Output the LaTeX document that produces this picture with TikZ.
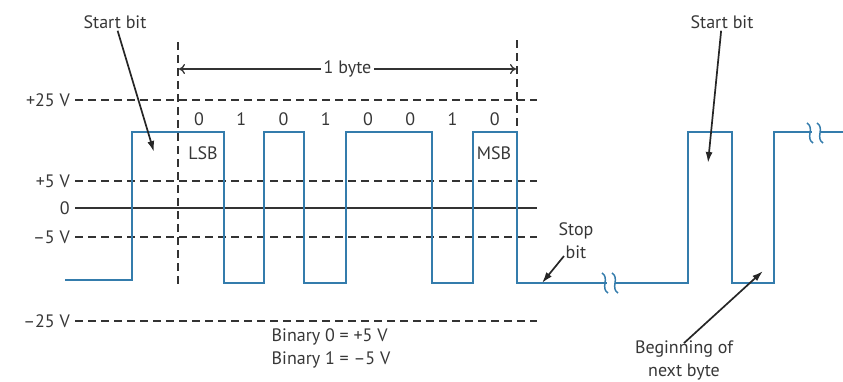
\documentclass[tikz,border=0pt]{standalone}
\usepackage{fontspec}
\setmainfont{PT Sans}
\usepackage{tikz}
\usetikzlibrary{arrows,arrows.meta,positioning}
\usepackage{xcolor}
\definecolor{sigblue}{RGB}{52,124,172}
\definecolor{txtgray}{RGB}{55,55,55}

\tikzset{
  level/.style={line width=1.3pt, black!80, dash pattern=on 8pt off 5pt, shorten <=3pt},
  zero/.style={line width=1.3pt, black!80, shorten <=3pt},
  wave/.style={sigblue, line width=1.8pt},
  pointer/.style={-{Latex[length=11pt,width=7pt]}, line width=1.7pt, black!85},
  lbl/.style={text=txtgray, font=\fontsize{18}{23}\selectfont, inner sep=2pt},
}

\begin{document}
\begin{tikzpicture}[x=1pt,y=-1pt]
          \useasboundingbox (0,0) rectangle (843,381);
          \node [lbl, anchor=east] (lv25) at (72,100) {+25 V};
          \node [lbl, anchor=east] (lv5) at (72,181) {+5 V};
          \node [lbl, anchor=east] (lv0) at (72,208) {0};
          \node [lbl, anchor=east] (lvm5) at (72,237) {–5 V};
          \node [lbl, anchor=east] (lvm25) at (72,321) {–25 V};
          \coordinate (rv25) at (537,100);
          \coordinate (rv5) at (537,181);
          \coordinate (rv0) at (537,208);
          \coordinate (rvm5) at (537,237);
          \coordinate (rvm25) at (537,321);
          \draw[level] (lv25) -- (rv25);
          \draw[level] (lv5) -- (rv5);
          \draw[zero] (lv0) -- (rv0);
          \draw[level] (lvm5) -- (rvm5);
          \draw[level] (lvm25) -- (rvm25);
          \coordinate (lsbtop) at (178,42);
          \coordinate (lsbbot) at (178,285);
          \coordinate (msbtop) at (517,40);
          \coordinate (msbbot) at (517,132);
          \draw[level, shorten <=0pt] (lsbtop) -- (lsbbot);
          \draw[level, shorten <=0pt] (msbtop) -- (msbbot);
          \coordinate (byteL) at (179,69);
          \coordinate (byteR) at (516,69);
          \draw[{To[length=6pt,width=10pt]}-{To[length=6pt,width=10pt]}, line width=1.3pt, black!80] (byteL) -- (byteR) node[lbl, midway, fill=white, inner sep=3pt] (byte) {1 byte};
          \foreach \b [count=\i from 0] in {0,1,0,1,0,0,1,0}
            \node [lbl] (bit\i) at (199+42.25*\i,119) {\b};
          \node [lbl] (lsb) at (203,153) {LSB};
          \node [lbl] (msb) at (494,153) {MSB};
          \draw[wave] (65,280) -- (132,280) -- (132,132) -- (224,132) -- (224,283) -- (264,283) -- (264,132)
            -- (304,132) -- (304,283) -- (346,283) -- (346,132) -- (432,132) -- (432,283) -- (473,283)
            -- (473,132) -- (517,132) -- (517,283) -- (688,283) -- (688,132) -- (732,132) -- (732,283)
            -- (774,283) -- (774,132) -- (843,132);
          \foreach \gx/\gy in {611/283, 816/133} {
            \fill[white] (\gx-4,\gy-3) rectangle (\gx+4,\gy+3);
            \draw[sigblue, line width=1.5pt] (\gx-9,\gy-10) .. controls (\gx-1,\gy-5) and (\gx-11,\gy+5) .. (\gx-3,\gy+10);
            \draw[sigblue, line width=1.5pt] (\gx+1,\gy-10) .. controls (\gx+9,\gy-5) and (\gx-1,\gy+5) .. (\gx+7,\gy+10);
          }
          \node [lbl] (startA) at (115,22) {Start bit};
          \coordinate (startAtip) at (154,152);
          \draw[pointer] (startA) -- (startAtip);
          \node [lbl] (startB) at (722,22) {Start bit};
          \coordinate (startBtip) at (708,163);
          \draw[pointer] (startB) -- (startBtip);
          \node [lbl, align=center] (stop) at (576,241) {Stop\\bit};
          \coordinate (stoptip) at (542,283);
          \draw[pointer] (stop) ++(-12,15) -- (stoptip);
          \node [lbl, align=center] (nextbyte) at (684,360) {Beginning of\\next byte};
          \coordinate (nexttip) at (763,271);
          \draw[pointer] (nextbyte.north) ++(0,5) -- (nexttip);
          \node [lbl, align=left] (coding) at (331,348) {Binary 0 = +5 V\\Binary 1 = –5 V};
        \end{tikzpicture}
\end{document}
